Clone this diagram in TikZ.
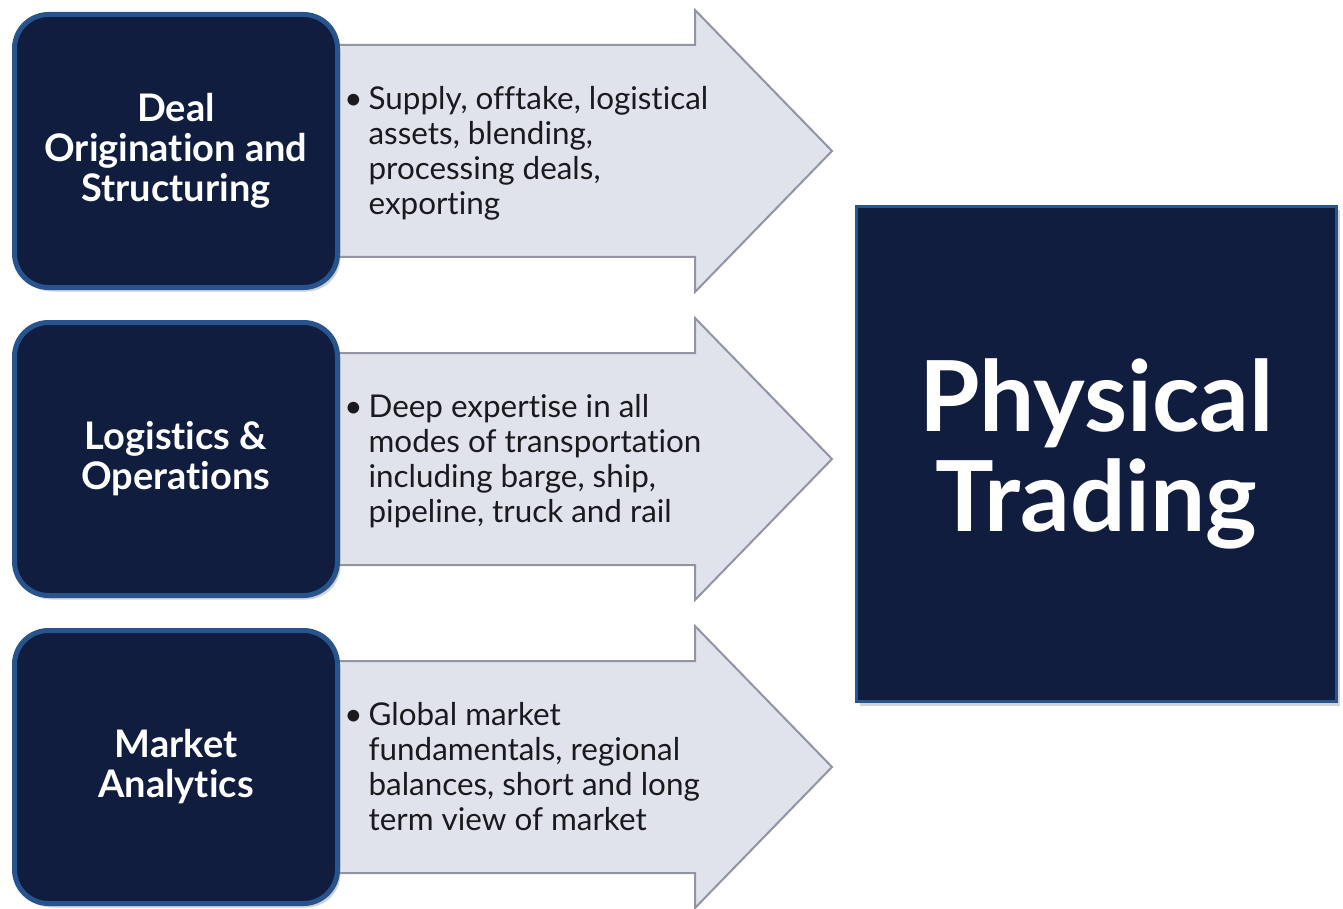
\documentclass[tikz,border=0pt]{standalone}
\usepackage{fontspec}
\setmainfont{Lato}[Ligatures=NoCommon]
\usetikzlibrary{positioning,backgrounds,shadows}
\definecolor{navy}{RGB}{16,29,62}
\definecolor{rim}{RGB}{40,84,142}
\definecolor{arrowfill}{RGB}{224,226,236}
\definecolor{arrowline}{RGB}{146,148,164}
\definecolor{ink}{RGB}{26,26,30}

\begin{document}
\begin{tikzpicture}[
    sidebox/.style={draw=rim, line width=2.5pt, fill=navy, rounded corners=17pt,
        minimum width=161.5pt, minimum height=136.5pt, text=white, align=center,
        font=\bfseries\fontsize{19}{20}\selectfont,
        drop shadow={opacity=0.35, shadow xshift=1.5pt, shadow yshift=-2pt}},
    bigbox/.style={draw=rim, line width=1.5pt, fill=navy,
        minimum width=240pt, minimum height=247.5pt, text=white, align=center,
        font=\bfseries\fontsize{49}{50}\selectfont,
        drop shadow={opacity=0.35, shadow xshift=1.5pt, shadow yshift=-2pt}},
    arrowbody/.style={fill=arrowfill, draw=arrowline, line width=1pt, line join=miter},
    bullettext/.style={anchor=west, inner sep=0pt, text=ink,
        font=\fontsize{15.7}{17.5}\selectfont}
]
    \useasboundingbox (0,0) rectangle (671.5pt,-454.5pt);

    \node[sidebox] at (88pt,-75.5pt) (deal){Deal\\Origination and\\Structuring};
    \node[sidebox, below=15pt of deal] (logi){Logistics \&\\Operations};
    \node[sidebox, below=15pt of logi] (mkt){Market\\Analytics};
    \node[bigbox] at (548.25pt,-227pt) (phys){Physical\\Trading};

    \begin{scope}[on background layer]
        \foreach \b in {deal,logi,mkt}{
            \draw[arrowbody] ([xshift=-5pt, yshift=53pt]\b.east) -- ([xshift=177.5pt, yshift=53pt]\b.east)
                -- ([xshift=177.5pt, yshift=70.5pt]\b.east) -- ([xshift=246pt]\b.east)
                -- ([xshift=177.5pt, yshift=-70.5pt]\b.east) -- ([xshift=177.5pt, yshift=-53pt]\b.east)
                -- ([xshift=-5pt, yshift=-53pt]\b.east) -- cycle;
        }
    \end{scope}

    \node[bullettext] at ([xshift=2pt, yshift=-2pt]deal.east)(dealtxt){\begin{tabular}{@{}l@{\hspace{3pt}}l@{}}
        \textbullet & Supply, offtake, logistical\\ & assets, blending,\\ & processing deals,\\ & exporting\end{tabular}};
    \node[bullettext] at ([xshift=2pt, yshift=-2pt]logi.east)(logitxt){\begin{tabular}{@{}l@{\hspace{3pt}}l@{}}
        \textbullet & Deep expertise in all\\ & modes of transportation\\ & including barge, ship,\\ & pipeline, truck and rail\end{tabular}};
    \node[bullettext] at ([xshift=2pt, yshift=-2pt]mkt.east)(mkttxt){\begin{tabular}{@{}l@{\hspace{3pt}}l@{}}
        \textbullet & Global market\\ & fundamentals, regional\\ & balances, short and long\\ & term view of market\end{tabular}};
\end{tikzpicture}
\end{document}
